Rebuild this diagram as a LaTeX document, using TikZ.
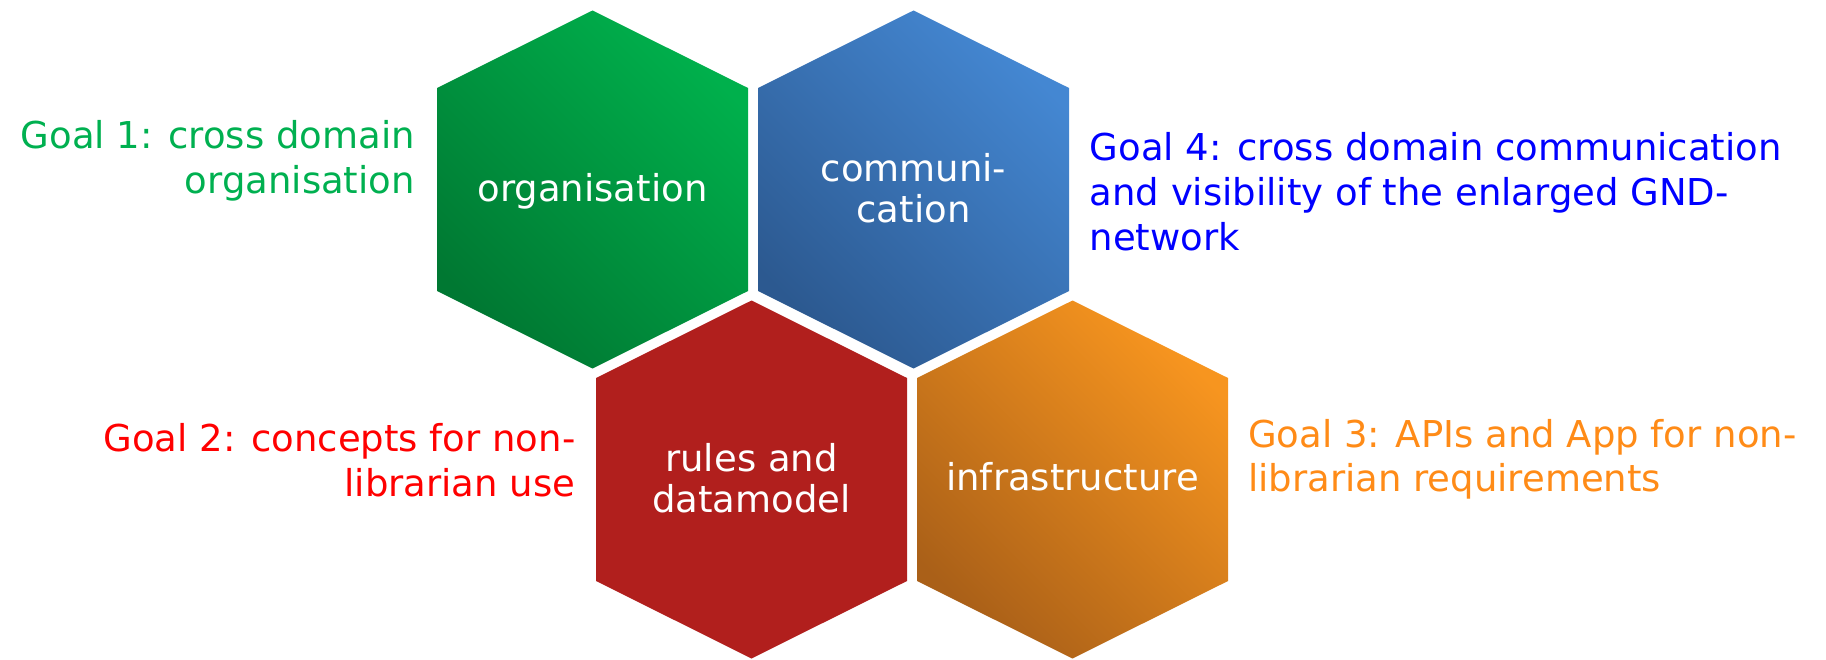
\documentclass[tikz,border=0pt]{standalone}
\usepackage{fontspec}
\setmainfont{DejaVu Sans}
\definecolor{greenL}{HTML}{00B04C}
\definecolor{greenD}{HTML}{007832}
\definecolor{blueL}{HTML}{4487D2}
\definecolor{blueD}{HTML}{2C5990}
\definecolor{orangeL}{HTML}{F7951F}
\definecolor{orangeD}{HTML}{AA6018}
\definecolor{redF}{HTML}{B11F1D}
\definecolor{txtGreen}{HTML}{00B050}
\definecolor{txtBlue}{HTML}{0000FF}
\definecolor{txtRed}{HTML}{FF0000}
\definecolor{txtOrange}{HTML}{FF8B17}
\tikzset{
  hexlabel/.style={text=white, inner sep=0pt, align=center, anchor=base,
    font={\fontsize{37bp}{40.5bp}\selectfont}},
  goaltext/.style={inner sep=0pt, font={\fontsize{37bp}{44.5bp}\selectfont}},
  goalleft/.style={goaltext, align=left, anchor=base west},
  goalright/.style={goaltext, align=right, anchor=base east},
  hexshade/.style 2 args={left color=#1, right color=#2, shading angle=135},
}
\newcommand\hexshape{(0,-179) -- (155.5,-101.5) -- (155.5,101.5) -- (0,179) -- (-155.5,101.5) -- (-155.5,-101.5) -- cycle}
\begin{document}
\begin{tikzpicture}[x=1bp,y=-1bp]
\useasboundingbox (0,0) rectangle (1826,660);
% hexagons
\shade[shift={(592.5,189.5)}, hexshade={greenD}{greenL}] \hexshape;
\shade[shift={(913.5,189.5)}, hexshade={blueD}{blueL}] \hexshape;
\fill[shift={(751.5,479.5)}, redF] \hexshape;
\shade[shift={(1072.5,479.5)}, hexshade={orangeD}{orangeL}] \hexshape;
% labels (anchor = baseline of last line)
\node[hexlabel] (org) at (592.5,201.7) {organisation};
\node[hexlabel] (com) at (913.5,222) {communi-\\cation};
\node[hexlabel] (rul) at (751.5,512.3) {rules and\\datamodel};
\node[hexlabel] (inf) at (1072.5,490.7) {infrastructure};
% goals
\node[goalright, text=txtGreen] (g1) at (415,193) {Goal 1: cross domain\\organisation};
\node[goalright, text=txtRed] (g2) at (575.5,496) {Goal 2: concepts for non-\\librarian use};
\node[goalleft, text=txtOrange] (g3) at (1248,491.7) {Goal 3: APIs and App for non-\\librarian requirements};
\node[goalleft, text=txtBlue] (g4) at (1089.5,250) {Goal 4: cross domain communication\\and visibility of the enlarged GND-\\network};
\end{tikzpicture}
\end{document}
